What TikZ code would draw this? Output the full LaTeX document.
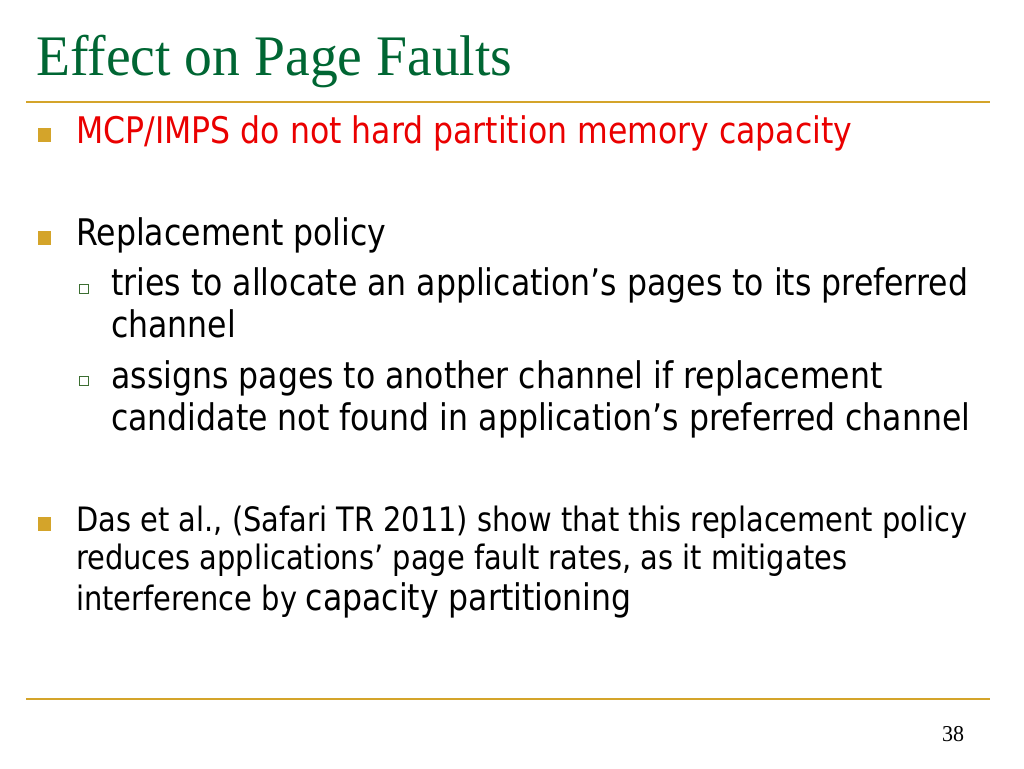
\documentclass[tikz,border=0pt]{standalone}
\usepackage{fontspec}
\setmainfont[FakeStretch=0.86]{DejaVu Sans}
\newfontfamily\titlefont[FakeStretch=0.97]{Liberation Serif}
\usetikzlibrary{positioning}
\definecolor{slidegreen}{RGB}{0,102,51}
\definecolor{slidegold}{RGB}{212,164,42}
\definecolor{slidered}{RGB}{234,0,0}
\definecolor{subgreen}{RGB}{60,110,50}
\tikzset{
  txtline/.style={anchor=base west, inner sep=0pt, font=\fontsize{27.5}{32}\selectfont},
  smallline/.style={anchor=base west, inner sep=0pt, font=\fontsize{25.2}{30}\selectfont},
  mainbox/.style={fill=slidegold, minimum size=9.8pt, inner sep=0pt},
  subbox/.style={draw=subgreen, line width=1pt, fill=white, minimum size=7.2pt, inner sep=0pt},
  rule/.style={draw=slidegold, line width=1.6pt}
}
\begin{document}
\begin{tikzpicture}[x=0.75pt, y=-0.75pt]
    \useasboundingbox (0,0) rectangle (1024,768);
    % Titel
    \node[anchor=base west, inner sep=0pt, text=slidegreen,
          font=\titlefont\fontsize{43}{48}\selectfont] (title) at (36,75) {Effect on Page Faults};
    \draw[rule] (26,102) coordinate (topL) -- (990,102) coordinate (topR);

    % Punkte
    \node[mainbox] (b1) at (44.5,135) {};
    \node[txtline, text=slidered] (l1) at (76,143) {MCP/IMPS do not hard partition memory capacity};

    \node[mainbox] (b2) at (44.5,238) {};
    \node[txtline] (l2) at (76,245) {Replacement policy};

    \node[subbox] (s1) at (84,289) {};
    \node[txtline] (l3) at (111,295) {tries to allocate an application’s pages to its preferred};
    \node[txtline] (l4) at (111,337) {channel};

    \node[subbox] (s2) at (84,381) {};
    \node[txtline] (l5) at (111,388) {assigns pages to another channel if replacement};
    \node[txtline] (l6) at (111,430) {candidate not found in application’s preferred channel};

    \node[mainbox] (b3) at (44.5,524) {};
    \node[smallline] (l7) at (76,531) {Das et al., (Safari TR 2011) show that this replacement policy};
    \node[smallline] (l8) at (76,569) {reduces applications’ page fault rates, as it mitigates};
    \node[smallline] (l9) at (76,610) {interference by};
    \node[txtline, right=6pt of l9.base east, anchor=base west] (l10) {capacity partitioning};

    % Fusszeile
    \draw[rule] (26,699) coordinate (botL) -- (990,699) coordinate (botR);
    \node[anchor=base, inner sep=0pt, font=\titlefont\fontsize{17}{20}\selectfont] (pnum) at (953,741) {38};
\end{tikzpicture}
\end{document}
